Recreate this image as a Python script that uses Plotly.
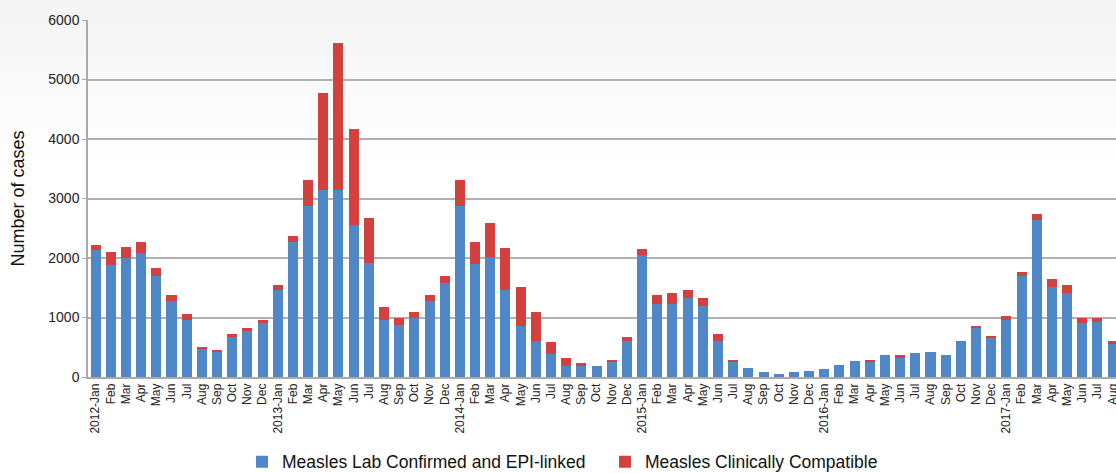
import plotly.graph_objects as go

# monthly labels, 2012-Jan .. 2017-Aug
months = ["Jan", "Feb", "Mar", "Apr", "May", "Jun",
          "Jul", "Aug", "Sep", "Oct", "Nov", "Dec"]
labels = []
for yr in range(2012, 2018):
    for m in months:
        labels.append(f"{yr}-{m}" if m == "Jan" else m)
labels = labels[:68]

lab_confirmed = [
    2130, 1890, 1995, 2085, 1690, 1285, 965, 475, 425, 680, 780, 900,
    1470, 2265, 2870, 3140, 3140, 2555, 1915, 965, 880, 1000, 1285, 1580,
    2870, 1895, 2010, 1455, 850, 610, 395, 190, 190, 190, 255, 610,
    2045, 1235, 1235, 1335, 1185, 610, 255, 155, 90, 55, 90, 105,
    140, 205, 275, 255, 375, 325, 410, 425, 375, 610, 830, 660,
    965, 1690, 2635, 1520, 1420, 915, 930, 560,
]
totals = [
    2215, 2095, 2180, 2265, 1840, 1385, 1065, 510, 460, 715, 830, 950,
    1540, 2365, 3310, 4775, 5615, 4165, 2670, 1170, 1000, 1100, 1385, 1705,
    3310, 2265, 2585, 2160, 1520, 1085, 580, 325, 240, 190, 290, 680,
    2145, 1370, 1420, 1455, 1335, 715, 275, 155, 90, 55, 90, 105,
    140, 205, 275, 290, 375, 375, 410, 425, 375, 610, 845, 680,
    1030, 1760, 2735, 1655, 1540, 1000, 1000, 610,
]
clinically_compatible = [t - c for t, c in zip(totals, lab_confirmed)]
x = list(range(len(labels)))

fig = go.Figure()
fig.add_trace(go.Bar(x=x, y=lab_confirmed,
                     name="Measles Lab Confirmed and EPI-linked",
                     marker=dict(color="#5087c7", line=dict(width=0))))
fig.add_trace(go.Bar(x=x, y=clinically_compatible,
                     name="Measles Clinically Compatible",
                     marker=dict(color="#d2413d", line=dict(width=0))))

W, H = 1116, 473
ML, MT, MB = 88, 20, 96
plot_h = H - MT - MB

# soft grey-to-white background at the top of the picture
shapes = []
steps = 20
for i in range(steps):
    top_px = i * 8
    v = int(round(244 + (255 - 244) * i / steps))
    shapes.append(dict(
        type="rect", xref="paper", yref="paper", layer="below",
        x0=-0.2, x1=1.1,
        y0=1 + (MT - top_px - 8) / plot_h, y1=1 + (MT - top_px) / plot_h,
        fillcolor=f"rgb({v},{v},{v})", line=dict(width=0)))

fig.update_layout(
    barmode="stack",
    bargap=0.34,
    width=W, height=H,
    margin=dict(l=ML, r=0, t=MT, b=MB, autoexpand=False),
    paper_bgcolor="white",
    plot_bgcolor="rgba(0,0,0,0)",
    font=dict(family="Liberation Sans, Arial, sans-serif", color="#222222"),
    shapes=shapes,
    showlegend=True,
    legend=dict(orientation="h", x=0.1498, xanchor="left",
                y=-0.187, yanchor="top", traceorder="normal",
                entrywidth=318, entrywidthmode="pixels",
                font=dict(size=17.5, color="#111111"),
                bgcolor="rgba(0,0,0,0)"),
)
fig.update_xaxes(
    range=[-0.5, 67.22],
    tickvals=x, ticktext=labels, tickangle=-90,
    tickfont=dict(size=12, color="#222222"),
    ticklabeloverflow="allow",
    showgrid=False, showline=True, linecolor="#aaaaaa", linewidth=1.5,
    ticks="", zeroline=False, automargin=False,
)
fig.update_yaxes(
    range=[0, 6000], dtick=1000,
    tickfont=dict(size=14, color="#222222"),
    showgrid=True, gridcolor="#b0b0b0", gridwidth=1.5,
    showline=True, linecolor="#aaaaaa", linewidth=1.5,
    ticks="outside", ticklen=4, tickcolor="#aaaaaa",
    zeroline=False, automargin=False,
    title=dict(text="Number of cases", font=dict(size=18, color="#111111"),
               standoff=19),
)

# drop the default page margin so the figure fills the window exactly
fig.write_html("out.html", config={"displayModeBar": False},
               post_script="document.body.style.margin = '0';")
